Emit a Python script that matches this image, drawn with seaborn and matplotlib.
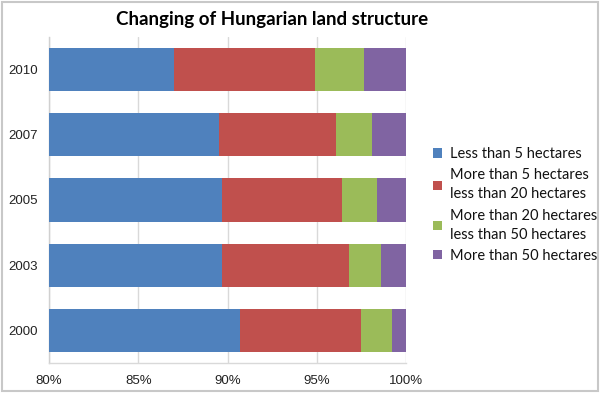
import matplotlib
matplotlib.use("Agg")
import matplotlib.pyplot as plt
import seaborn as sns
import numpy as np
import pandas as pd
from matplotlib.patches import Patch, Rectangle

years = ["2010", "2007", "2005", "2003", "2000"]
less_5 = [87.0, 89.5, 89.7, 89.7, 90.7]
from_5_to_20 = [7.9, 6.6, 6.7, 7.1, 6.8]
from_20_to_50 = [2.75, 2.0, 2.0, 1.8, 1.7]
more_50 = [2.35, 1.9, 1.6, 1.4, 0.8]
series_names = ["Less than 5 hectares",
                "More than 5 hectares\nless than 20 hectares",
                "More than 20 hectares\nless than 50 hectares",
                "More than 50 hectares"]
colors = ["#4F81BD", "#C0504D", "#9BBB59", "#8064A2"]
xticks = [80, 85, 90, 95, 100]
xticklabels = ["80%", "85%", "90%", "95%", "100%"]

sns.set_theme(style="white")
plt.rcParams['font.family'] = ['Liberation Sans', 'DejaVu Sans']

fig = plt.figure(figsize=(6.01, 3.93), dpi=100)
ax = fig.add_axes([49/601, 1-363/393, (406-49)/601, (363-37)/393])

series = [less_5, from_5_to_20, from_20_to_50, more_50]
cum = np.cumsum(np.array(series), axis=0)
df = pd.DataFrame({"year": years})
for i in range(3, -1, -1):
    df["v"] = cum[i]
    sns.barplot(data=df, x="v", y="year", order=years, orient="h",
                color=colors[i], width=0.66, ax=ax, saturation=1,
                edgecolor="none", linewidth=0, zorder=3)

ax.set_xlim(80, 100)
ax.set_xticks(xticks)
ax.set_xticklabels(xticklabels, fontsize=9.5, color="#222222")
ax.tick_params(axis="y", labelsize=9.5, colors="#222222", length=0, pad=8)
ax.tick_params(axis="x", length=0, pad=9)
ax.set_xlabel("")
ax.set_ylabel("")
ax.xaxis.grid(True, color="#D9D9D9", linewidth=1, zorder=0)
ax.yaxis.grid(False)
ax.set_axisbelow(True)
for s in ["top", "right"]:
    ax.spines[s].set_visible(False)
ax.spines["left"].set_color("#D0D0D0")
ax.spines["bottom"].set_color("#D9D9D9")
ax.spines["left"].set_linewidth(1)
ax.spines["bottom"].set_linewidth(1)

fig.text(272/601, 1-20/393, "Changing of Hungarian land structure",
         ha="center", va="center", fontsize=13.5, fontweight="bold",
         family=["Lato", "DejaVu Sans"], color="black")

handles = [Patch(facecolor=c, edgecolor="none") for c in colors]
leg = fig.legend(handles, series_names, loc="center left",
                 bbox_to_anchor=(433/601, 1-205/393), frameon=False,
                 prop={"family": "Lato", "size": 10.5},
                 handlelength=0.6, handleheight=0.6, handletextpad=0.6,
                 labelspacing=0.5, borderaxespad=0, borderpad=0)
for t in leg.get_texts():
    t.set_linespacing(1.45)
    t.set_color("#111111")

fig.patches.append(Rectangle((2/601, 2/393), 596/601, 389/393,
                             transform=fig.transFigure, fill=False,
                             edgecolor="#C8C8C8", linewidth=1.5))

fig.savefig("out.png", dpi=100)
